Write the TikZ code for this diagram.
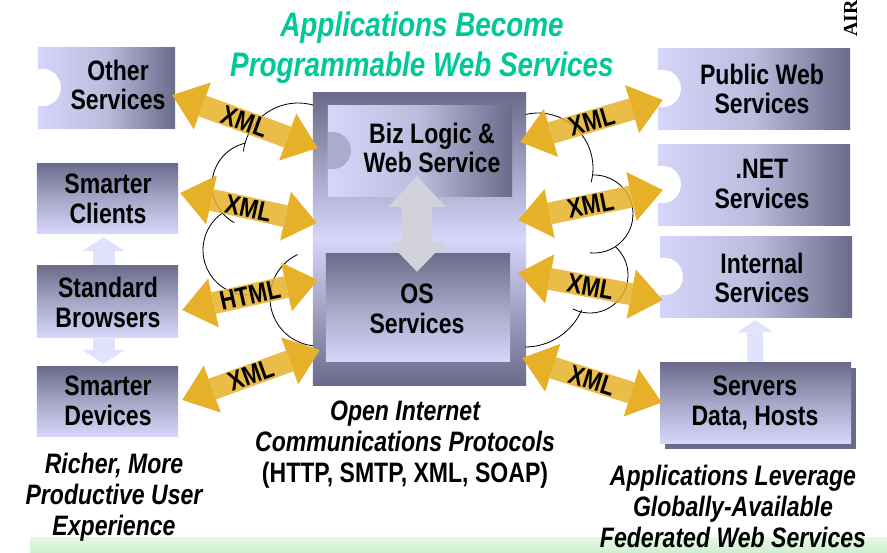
\documentclass[tikz,border=0pt]{standalone}
\usepackage{fontspec}
\setmainfont{Liberation Sans}[FakeStretch=0.82]
\newfontfamily\airfont{Liberation Serif}
\usetikzlibrary{calc, arrows.meta, shadows}

\definecolor{titlegreen}{RGB}{0,200,150}
\definecolor{boxdark}{RGB}{106,106,138}
\definecolor{boxlight}{RGB}{214,214,250}
\definecolor{gold}{RGB}{230,176,40}
\definecolor{paleblue}{RGB}{226,226,252}
\definecolor{greyarrow}{RGB}{210,210,218}
\definecolor{bandgreen}{RGB}{206,240,206}

\begin{document}
\begin{tikzpicture}[
    x=0.03cm, y=0.03cm,
    hbox/.style={rectangle, inner sep=0pt, left color=boxlight, right color=boxdark, middle color=boxlight!75!boxdark},
    vbox/.style={rectangle, inner sep=0pt, top color=boxdark, bottom color=boxlight, middle color=boxlight!55!boxdark},
    txt/.style={font=\fontsize{24}{25.5}\selectfont\bfseries, align=center, inner sep=0pt},
    note/.style={txt, font=\fontsize{24}{26.5}\selectfont\bfseries\itshape},
    tag/.style={font=\fontsize{23}{24}\selectfont\bfseries, sloped, inner sep=0pt},
    link/.style={draw=gold, draw opacity=0.85, line width=0.66cm,
        {Triangle[width=1.5cm, length=0.96cm, line width=0pt]}-{Triangle[width=1.5cm, length=0.96cm, line width=0pt]}},
    cloud/.style={draw=black, line width=0.7pt},
]
    \useasboundingbox (0,0) rectangle (887,-552);

    % Background band
    \shade[top color=bandgreen!50, bottom color=bandgreen] (30,-537) rectangle (887,-552);

    % Title
    \node[font=\fontsize{29}{34}\selectfont\bfseries\itshape, text=titlegreen, align=center, inner sep=0pt] (title) at (422,-48) {Applications Become\\Programmable Web Services};
    \node[font=\airfont\fontsize{17}{17}\selectfont\bfseries, rotate=90, anchor=base west, inner sep=0pt] (air) at (857,-37) {AIR};

    % Clients
    \node[hbox, minimum width=4.11cm, minimum height=2.43cm] (other) at (106.5,-87.5) {};
    \node[vbox, minimum width=4.23cm, minimum height=2.1cm] (clients) at (107.5,-198) {};
    \node[vbox, minimum width=4.23cm, minimum height=2.16cm] (browsers) at (107.5,-301) {};
    \node[vbox, minimum width=4.23cm, minimum height=2.1cm] (devices) at (107.5,-401) {};

    % Web service core
    \node[rectangle, inner sep=0pt, minimum width=6.39cm, minimum height=8.76cm, top color=boxdark, bottom color=boxdark, middle color=boxlight] (core) at (419.5,-239) {};
    \node[hbox, minimum width=5.52cm, minimum height=2.73cm] (biz) at (420,-150.5) {};
    \node[vbox, minimum width=5.52cm, minimum height=3.24cm] (os) at (418,-307) {};

    % Services
    \node[hbox, minimum width=5.76cm, minimum height=2.43cm] (public) at (754,-88.5) {};
    \node[hbox, minimum width=5.76cm, minimum height=2.43cm] (dotnet) at (754,-184.5) {};
    \node[hbox, minimum width=5.76cm, minimum height=2.43cm] (internal) at (756,-276.5) {};
    \node[vbox, minimum width=5.73cm, minimum height=2.43cm, drop shadow={shadow xshift=0.15cm, shadow yshift=-0.17cm, opacity=1, fill=boxdark}] (servers) at (755.5,-402.5) {};

    % Puzzle notches
    \foreach \b/\c in {other/white, public/white, dotnet/white, internal/white, biz/boxlight!60!boxdark} {
        \begin{scope}
            \clip (\b.south west) rectangle (\b.north east);
            \fill[\c] ($(\b.west)+(4.5,0)$) circle[radius=0.56cm];
        \end{scope}
    }

    % Cloud
    \foreach \cx/\cy/\rad/\a/\e in {298/158/1.65/173/74, 255/185/1.29/103/241, 248/250/1.35/124/280, 318/298/1.44/115/264,
                                    538/168/1.65/103/-15, 594/214/1.17/93/-96, 590/275/1.14/48/-117, 525/285/1.86/-24/-90}
        \draw[cloud] (\cx,-\cy) ++(\a:\rad cm) arc[start angle=\a, end angle=\e, radius=\rad cm];

    % Internal arrows
    \draw[draw=greyarrow, line width=0.9cm, {Triangle[width=1.74cm, length=0.93cm, line width=0pt]}-{Triangle[width=1.74cm, length=0.9cm, line width=0pt]}]
        ($(biz.south)+(-3,20)$) -- ($(os.north)+(-1,-19)$);
    \draw[draw=paleblue, line width=0.66cm, -{Triangle[width=1.29cm, length=0.42cm, line width=0pt]}]
        ($(browsers.north)+(-4,0)$) -- ($(clients.south)+(-4,-4)$);
    \draw[draw=paleblue, line width=0.66cm, -{Triangle[width=1.29cm, length=0.42cm, line width=0pt]}]
        ($(browsers.south)+(-4,0)$) -- ($(devices.north)+(-4,2)$);
    \draw[draw=paleblue, line width=0.48cm, -{Triangle[width=1.08cm, length=0.36cm, line width=0pt]}]
        (servers.north) -- ($(internal.south)+(-1,-3)$);

    % Protocol links
    \draw[link] ($(other.east)+(-3,-7.5)$) -- ($(core.west)+(5,91)$) node[tag, midway] (x1) {XML};
    \draw[link] ($(clients.east)+(2,5)$) -- ($(core.west)+(4,16)$) node[tag, midway] (x2) {XML};
    \draw[link] ($(browsers.east)+(4,-9)$) -- ($(core.west)+(5,-41)$) node[tag, midway] (h1) {HTML};
    \draw[link] ($(devices.east)+(4,1)$) -- ($(core.west)+(7,-111)$) node[tag, midway] (x3) {XML};
    \draw[link] ($(core.east)+(-6,97)$) -- ($(public.west)+(5,-11.5)$) node[tag, midway] (x4) {XML};
    \draw[link] ($(core.east)+(-8,19)$) -- ($(dotnet.west)+(5,-5.5)$) node[tag, midway] (x5) {XML};
    \draw[link] ($(core.east)+(-8,-34)$) -- ($(internal.west)+(3,-23.5)$) node[tag, midway] (x6) {XML};
    \draw[link] ($(core.east)+(-4,-119)$) -- ($(servers.west)+(2,0)$) node[tag, midway] (x7) {XML};

    % Box texts
    \node[txt] (other-t) at (118,-85) {Other\\Services};
    \node[txt] (clients-t) at (108,-199) {Smarter\\Clients};
    \node[txt] (browsers-t) at (108,-302.5) {Standard\\Browsers};
    \node[txt] (devices-t) at (108,-401) {Smarter\\Devices};
    \node[txt] (biz-t) at (432,-148) {Biz Logic \&\\Web Service};
    \node[txt] (os-t) at (417,-309) {OS\\Services};
    \node[txt] (public-t) at (762,-89) {Public Web\\Services};
    \node[txt] (dotnet-t) at (762,-184) {.NET\\Services};
    \node[txt] (internal-t) at (762,-278) {Internal\\Services};
    \node[txt] (servers-t) at (755,-402.5) {Servers\\Data, Hosts};

    % Notes
    \node[note] (users) at (114,-497) {Richer, More\\Productive User\\Experience};
    \node[note] (proto) at (405,-445) {Open Internet\\Communications Protocols\\\upshape (HTTP, SMTP, XML, SOAP)};
    \node[note] (fed) at (733,-506) {Applications Leverage\\Globally-Available\\Federated Web Services};

\end{tikzpicture}
\end{document}
